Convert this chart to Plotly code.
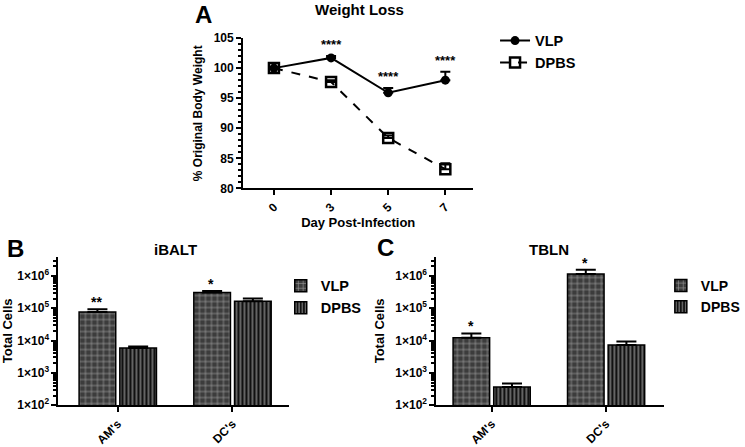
import math
import plotly.graph_objects as go

# ---------------- data ----------------
days = ["0", "3", "5", "7"]
vlp_weight = [100.0, 101.7, 95.9, 98.0]
vlp_weight_err = [0.2, 0.3, 0.8, 1.4]
dpbs_weight = [100.0, 97.7, 88.4, 83.2]
dpbs_weight_err = [0.2, 0.3, 0.4, 1.0]
weight_sig = ["", "****", "****", "****"]

cell_types = ["AM's", "DC's"]
ibalt_vlp = [7.6e4, 3.1e5]
ibalt_vlp_err = [1.8e4, 0.35e5]
ibalt_dpbs = [5.9e3, 1.65e5]
ibalt_dpbs_err = [0.7e3, 0.35e5]
ibalt_sig = ["**", "*"]

tbln_vlp = [1.23e4, 1.15e6]
tbln_vlp_err = [0.43e4, 0.4e6]
tbln_dpbs = [3.7e2, 7.3e3]
tbln_dpbs_err = [1.0e2, 2.0e3]
tbln_sig = ["*", "*"]

log_ticks = [1e2, 1e3, 1e4, 1e5, 1e6]
log_ticktext = ["1×10<sup>2</sup>", "1×10<sup>3</sup>", "1×10<sup>4</sup>",
                "1×10<sup>5</sup>", "1×10<sup>6</sup>"]
log_minor = [k * 10 ** d for d in range(2, 7) for k in range(2, 10)]

FONT = "Liberation Sans, Arial, sans-serif"
fig = go.Figure()

# ---------------- panel A ----------------
fig.add_trace(go.Scatter(
    x=days, y=vlp_weight, name="VLP", mode="lines+markers",
    line=dict(color="black", width=2),
    marker=dict(symbol="circle", size=9, color="black"),
    error_y=dict(type="data", array=vlp_weight_err, arrayminus=[0] * 4,
                 symmetric=False, color="black", thickness=2, width=5),
    xaxis="x", yaxis="y", legend="legend"))
fig.add_trace(go.Scatter(
    x=days, y=dpbs_weight, name="DPBS", mode="lines+markers",
    line=dict(color="black", width=2, dash="dash"),
    marker=dict(symbol="square-open", size=10, color="black", line=dict(width=2.5)),
    error_y=dict(type="data", array=dpbs_weight_err, arrayminus=[0] * 4,
                 symmetric=False, color="black", thickness=2, width=5),
    xaxis="x", yaxis="y", legend="legend"))

vlp_pat = dict(shape="+", bgcolor="#3c3c3c", fgcolor="white", size=6, solidity=0.22)
dpbs_pat = dict(shape="|", bgcolor="#111111", fgcolor="white", size=4, solidity=0.35)


def bar(x, y, err, name, pat, bg, xa, ya, lg):
    return go.Bar(
        x=x, y=y, name=name,
        marker=dict(color=bg, pattern=pat, line=dict(color="black", width=1.5)),
        error_y=dict(type="data", array=err, arrayminus=[0] * len(err),
                     symmetric=False, color="black", thickness=2, width=10),
        xaxis=xa, yaxis=ya, legend=lg)


fig.add_trace(bar(cell_types, ibalt_vlp, ibalt_vlp_err, "VLP", vlp_pat, "#3c3c3c", "x2", "y2", "legend2"))
fig.add_trace(bar(cell_types, ibalt_dpbs, ibalt_dpbs_err, "DPBS", dpbs_pat, "#111111", "x2", "y2", "legend2"))
fig.add_trace(bar(cell_types, tbln_vlp, tbln_vlp_err, "VLP", vlp_pat, "#3c3c3c", "x3", "y3", "legend3"))
fig.add_trace(bar(cell_types, tbln_dpbs, tbln_dpbs_err, "DPBS", dpbs_pat, "#111111", "x3", "y3", "legend3"))

axis_common = dict(showline=True, linecolor="black", linewidth=2, ticks="outside",
                   tickwidth=2, ticklen=5, tickcolor="black", showgrid=False,
                   zeroline=False, tickfont=dict(size=12, color="black"))
log_minor_d = dict(tickmode="array", tickvals=log_minor, ticks="outside",
                   ticklen=3, tickcolor="black", tickwidth=1.5)

fig.update_layout(
    width=745, height=447, margin=dict(l=0, r=0, t=0, b=0),
    paper_bgcolor="white", plot_bgcolor="white",
    font=dict(family=FONT, color="black", size=12, weight="bold"),
    barmode="group", bargap=0.29, bargroupgap=0.1,
    showlegend=True,
    xaxis=dict(domain=[0.333, 0.651], anchor="y", type="category",
               range=[-0.54, 3.49], tickangle=-45,
               title=dict(text="Day Post-Infection", font=dict(size=13), standoff=0),
               **axis_common),
    yaxis=dict(domain=[0.579, 0.928], anchor="x", range=[80, 105], dtick=5,
               minor=dict(dtick=1, ticks="outside", ticklen=3, tickcolor="black", tickwidth=1.5),
               title=dict(text="% Original Body Weight", font=dict(size=12), standoff=8),
               **axis_common),
    xaxis2=dict(domain=[0.078, 0.396], anchor="y2", type="category",
                range=[-0.517, 1.49], tickangle=-45, **axis_common),
    yaxis2=dict(domain=[0.076, 0.421], anchor="x2", type="log", range=[2, 6.6],
                tickmode="array", tickvals=log_ticks, ticktext=log_ticktext,
                minor=log_minor_d,
                title=dict(text="Total Cells", font=dict(size=13), standoff=8),
                **axis_common),
    xaxis3=dict(domain=[0.600, 0.915], anchor="y3", type="category",
                range=[-0.483, 1.51], tickangle=-45, **axis_common),
    yaxis3=dict(domain=[0.076, 0.421], anchor="x3", type="log", range=[2, 6.6],
                tickmode="array", tickvals=log_ticks, ticktext=log_ticktext,
                minor=log_minor_d,
                title=dict(text="Total Cells", font=dict(size=13), standoff=8),
                **axis_common),
    legend=dict(x=0.681, y=0.959, xanchor="left", yanchor="top", tracegroupgap=0,
                font=dict(size=14.5), itemwidth=30, bgcolor="rgba(0,0,0,0)"),
    legend2=dict(x=0.385, y=0.390, xanchor="left", yanchor="top", tracegroupgap=0,
                 font=dict(size=14.5), itemwidth=30, bgcolor="rgba(0,0,0,0)"),
    legend3=dict(x=0.910, y=0.390, xanchor="left", yanchor="top", tracegroupgap=0,
                 font=dict(size=14), itemwidth=30, bgcolor="rgba(0,0,0,0)"),
)

ann = []
# panel letters and titles
for txt, x, y, sz in [("A", 0.278, 0.982, 24), ("B", 0.018, 0.440, 24), ("C", 0.530, 0.442, 24),
                      ("Weight Loss", 0.494, 0.995, 15), ("iBALT", 0.240, 0.438, 15),
                      ("TBLN", 0.756, 0.438, 15)]:
    ann.append(dict(text=txt, x=x, y=y, xref="paper", yref="paper", showarrow=False,
                    xanchor="center", yanchor="middle", font=dict(size=sz)))
# significance stars
for i, (v, e, s) in enumerate(zip(vlp_weight, vlp_weight_err, weight_sig)):
    if s:
        ann.append(dict(text=s, x=i, y=v + e, xref="x", yref="y", showarrow=False,
                        yanchor="bottom", yshift=2, font=dict(size=13)))
for xa, ya, vals, errs, sigs in [("x2", "y2", ibalt_vlp, ibalt_vlp_err, ibalt_sig),
                                 ("x3", "y3", tbln_vlp, tbln_vlp_err, tbln_sig)]:
    for i, (v, e, s) in enumerate(zip(vals, errs, sigs)):
        ann.append(dict(text=s, x=i, y=math.log10(v + e), xref=xa, yref=ya,
                        showarrow=False, yanchor="bottom", xshift=-21, yshift=-3,
                        font=dict(size=14)))
fig.update_layout(annotations=ann)

fig.write_html("out.html", config={"displayModeBar": False},
               post_script="document.body.style.margin='0';")
